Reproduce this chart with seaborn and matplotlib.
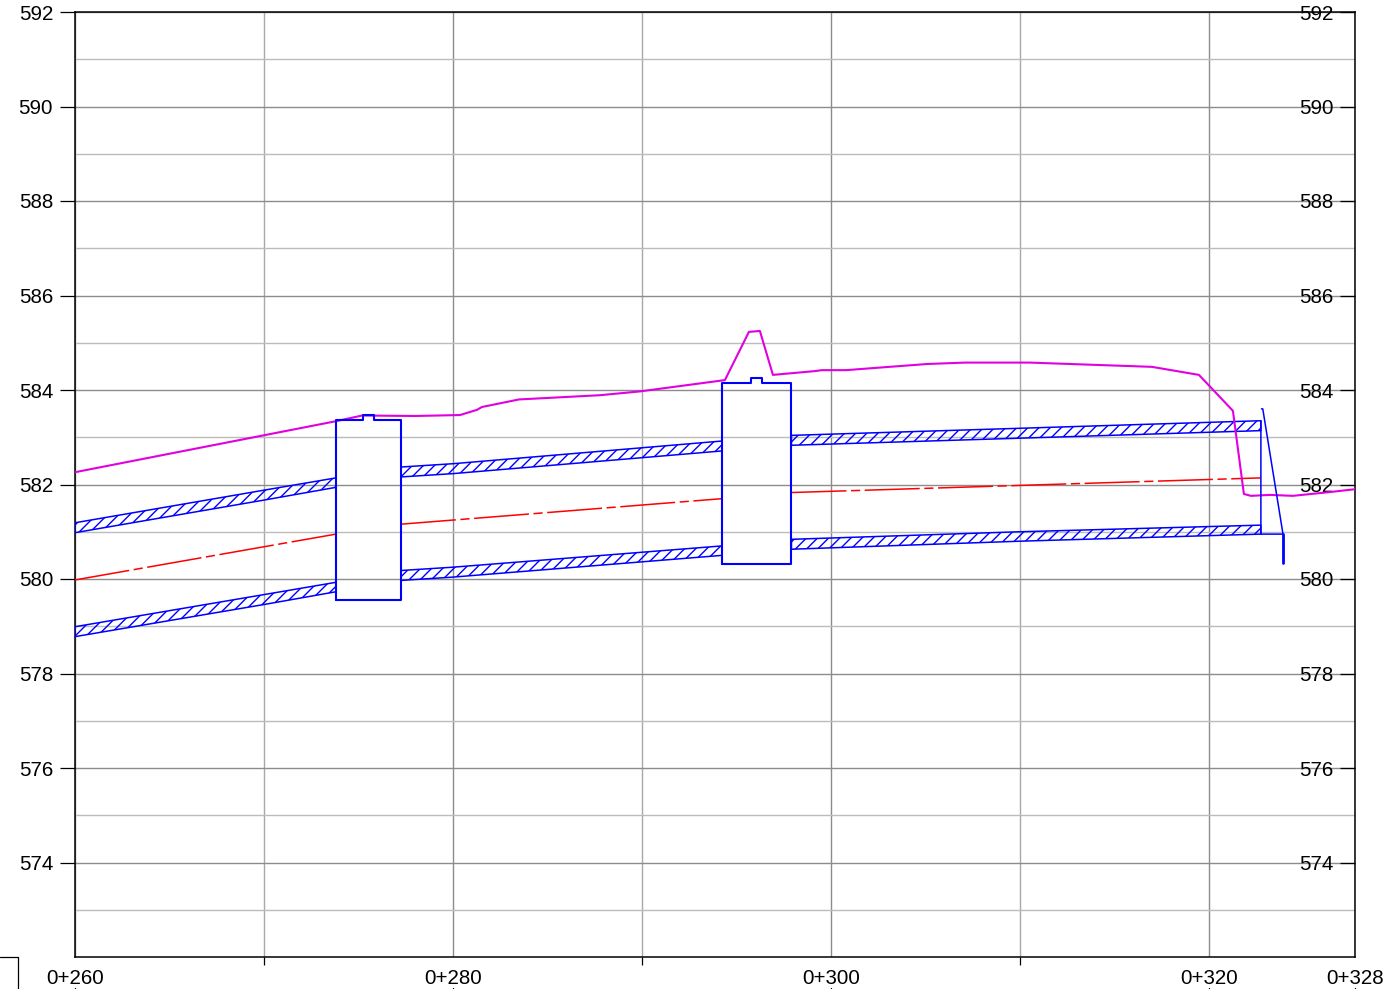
import numpy as np
import pandas as pd
import seaborn as sns
import matplotlib.pyplot as plt
from matplotlib.lines import Line2D

DPI = 100
W, H = 1386, 989

# ground profile
ground_x = [260, 273.81, 275.19, 277.99, 280.37, 281.27, 281.53, 283.49, 287.78, 289.89, 294.39,
            295.66, 296.24, 296.93, 299.15, 299.52, 300.79, 305.08, 307.09, 310.53, 316.98,
            319.47, 321.27, 321.85, 322.22, 323.23, 324.44, 326.40, 327.73]
ground_y = [582.26, 583.34, 583.46, 583.45, 583.47, 583.58, 583.64, 583.80, 583.89, 583.97, 584.21,
            585.23, 585.25, 584.32, 584.40, 584.42, 584.42, 584.55, 584.58, 584.58, 584.49,
            584.32, 583.56, 581.80, 581.76, 581.78, 581.76, 581.84, 581.90]

# pipe axis
axis_x = [[260, 273.81], [277.25, 294.23], [297.91, 322.75]]
axis_y = [[579.98, 580.95], [581.16, 581.70], [581.83, 582.14]]

# pipe wall bands, upper wall then lower wall
band_x = [[260, 270, 273.81], [277.25, 280, 294.23], [297.91, 310, 322.75]]
upper_top = [[581.19, 581.88, 582.14], [582.37, 582.44, 582.92], [583.04, 583.19, 583.35]]
upper_bot = [[580.98, 581.67, 581.94], [582.16, 582.23, 582.71], [582.83, 582.98, 583.14]]
lower_top = [[578.99, 579.67, 579.93], [580.18, 580.25, 580.70], [580.84, 581.00, 581.14]]
lower_bot = [[578.78, 579.46, 579.73], [579.97, 580.04, 580.50], [580.63, 580.80, 580.95]]

# manholes
mh1_x = [273.81, 273.81, 275.24, 275.24, 275.82, 275.82, 277.25, 277.25, 273.81]
mh1_y = [579.56, 583.36, 583.36, 583.47, 583.47, 583.36, 583.36, 579.56, 579.56]
mh2_x = [294.23, 294.23, 295.77, 295.77, 296.35, 296.35, 297.91, 297.91, 294.23]
mh2_y = [580.32, 584.15, 584.15, 584.25, 584.25, 584.15, 584.15, 580.32, 580.32]

# outlet headwall
outlet_x = [322.75, 322.75, 323.92, 322.85, 322.78]
outlet_y = [583.35, 580.95, 580.95, 583.60, 583.60]
stem_x = [323.92, 323.92]
stem_y = [580.95, 580.34]

y_ticks = list(range(574, 593, 2))
y_minor = list(range(573, 592, 2))
x_ticks = [260, 280, 300, 320, 327.73]
x_labels = ['0+260', '0+280', '0+300', '0+320', '0+328']
x_minor = [270, 290, 310]

BLUE = '#0000ff'
MAGENTA = '#e000e0'
RED = '#ff0000'

sns.set_theme(style='white')
plt.rcParams['font.family'] = ['Liberation Sans']
plt.rcParams['hatch.linewidth'] = 1.0
plt.rcParams['hatch.color'] = BLUE

fig = plt.figure(figsize=(W / DPI, H / DPI), dpi=DPI)
ax = fig.add_axes([75 / W, 1 - 957 / H, (1355 - 75) / W, (957 - 12) / H])


def trace(xs, ys, color, lw, **kw):
    df = pd.DataFrame({'x': xs, 'y': ys})
    sns.lineplot(data=df, x='x', y='y', ax=ax, color=color, linewidth=lw,
                 sort=False, estimator=None, **kw)


for tops, bots in ((upper_top, upper_bot), (lower_top, lower_bot)):
    for xs, t, b in zip(band_x, tops, bots):
        ax.fill_between(xs, b, t, facecolor='none', edgecolor=BLUE, hatch='///', linewidth=1.1, zorder=3)

for xs, ys in zip(axis_x, axis_y):
    trace(xs, ys, RED, 1.1, dashes=(36, 3, 6, 3), zorder=3)

trace(ground_x, ground_y, MAGENTA, 1.5, zorder=4)
trace(mh1_x, mh1_y, BLUE, 1.5, zorder=5)
trace(mh2_x, mh2_y, BLUE, 1.5, zorder=5)
trace(outlet_x, outlet_y, BLUE, 1.1, zorder=5)
trace(stem_x, stem_y, BLUE, 2.0, zorder=5)

ax.set_xlim(260, 327.73)
ax.set_ylim(572, 592)
ax.set_xlabel('')
ax.set_ylabel('')

ax.set_xticks(x_ticks)
ax.set_xticklabels(x_labels)
ax.set_xticks(x_minor, minor=True)
ax.set_yticks(y_ticks)
ax.set_yticks(y_minor, minor=True)

ax.set_axisbelow(True)
ax.grid(True, which='major', color='#8c8c8c', linewidth=1.0)
ax.yaxis.grid(True, which='minor', color='#bcbcbc', linewidth=1.0)
ax.xaxis.grid(True, which='minor', color='#a8a8a8', linewidth=1.0)

ax.tick_params(axis='x', which='major', direction='out', length=5.8, width=0.9, color='black',
               labelsize=14.8, pad=2.8, labelcolor='black')
ax.tick_params(axis='x', which='minor', direction='out', length=5.8, width=0.9, color='black', bottom=True)
ax.tick_params(axis='y', which='major', direction='out', length=10.8, width=0.9, color='black',
               labelsize=14.8, pad=5, labelcolor='black', left=True, right=True, labelright=True)
ax.tick_params(axis='y', which='minor', length=0)
for t in ax.yaxis.get_major_ticks():
    t.tick2line.set_marker(0)
    t.tick2line.set_markersize(10.8)
    t.label1.set_verticalalignment('center_baseline')
    t.label2.set_verticalalignment('center_baseline')
    t.label2.set_x(1 - 56 / 1280)
    t.label2.set_transform(ax.get_yaxis_transform())

for s in ax.spines.values():
    s.set_visible(True)
    s.set_color('black')
    s.set_linewidth(1.1)

# fragment of the table under the profile
fig.add_artist(Line2D([0, 18 / W, 18 / W], [1 - 957 / H, 1 - 957 / H, 0], color='black', linewidth=0.9))
for px in (75, 453, 831, 1209, 1355):
    fig.add_artist(Line2D([px / W, px / W], [0, 1 / H], color='black', linewidth=0.9))

fig.savefig('out.png', dpi=DPI)
